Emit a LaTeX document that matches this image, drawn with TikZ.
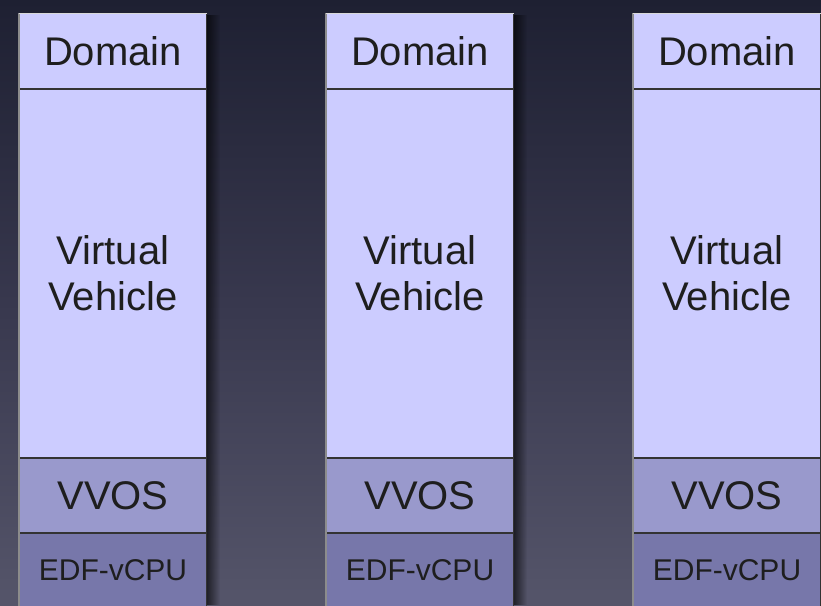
\documentclass[tikz,border=0pt]{standalone}
\usepackage{fontspec}
\setmainfont{Liberation Sans}
\usetikzlibrary{fadings}
\definecolor{bgtop}{HTML}{1E2032}
\definecolor{bgmid}{HTML}{38384E}
\definecolor{bgbot}{HTML}{55556A}
\definecolor{lightc}{HTML}{CCCCFF}
\definecolor{midc}{HTML}{9999CC}
\definecolor{darkc}{HTML}{7777AA}
\definecolor{txt}{HTML}{1E1E1E}
\tikzfading[name=shadowfade, left color=transparent!35, right color=transparent!100]
\tikzset{
  sec/.style={draw=black!80, line width=1pt, minimum width=187pt, inner sep=0pt, anchor=north west, text=txt, align=center},
  big/.style={font=\fontsize{40}{46}\selectfont},
  small/.style={font=\fontsize{30}{34}\selectfont},
}
\begin{document}
\begin{tikzpicture}[x=1pt,y=-1pt]
\useasboundingbox (0,0) rectangle (821,605);
\shade[top color=bgtop, bottom color=bgbot, middle color=bgmid] (0,0) rectangle (821,605);
\foreach \c/\xl in {a/19,b/326,c/633}{
  \fill[black, path fading=shadowfade] (\xl+187,14) rectangle (\xl+201,605);
  \node[sec, big, fill=lightc, minimum height=75pt] (dom\c) at (\xl,13) {Domain};
  \node[sec, big, fill=lightc, minimum height=368pt] (vv\c) at (dom\c.south west) {Virtual\\Vehicle};
  \node[sec, big, fill=midc, minimum height=74pt] (os\c) at (vv\c.south west) {VVOS};
  \node[sec, small, fill=darkc, minimum height=74pt] (cpu\c) at (os\c.south west) {EDF-vCPU};
  \draw[black!45, line width=1.5pt] (dom\c.north west) -- (cpu\c.south west);
  \draw[white!85!black, line width=1pt] (dom\c.north west) -- (dom\c.north east);
}
\end{tikzpicture}
\end{document}
